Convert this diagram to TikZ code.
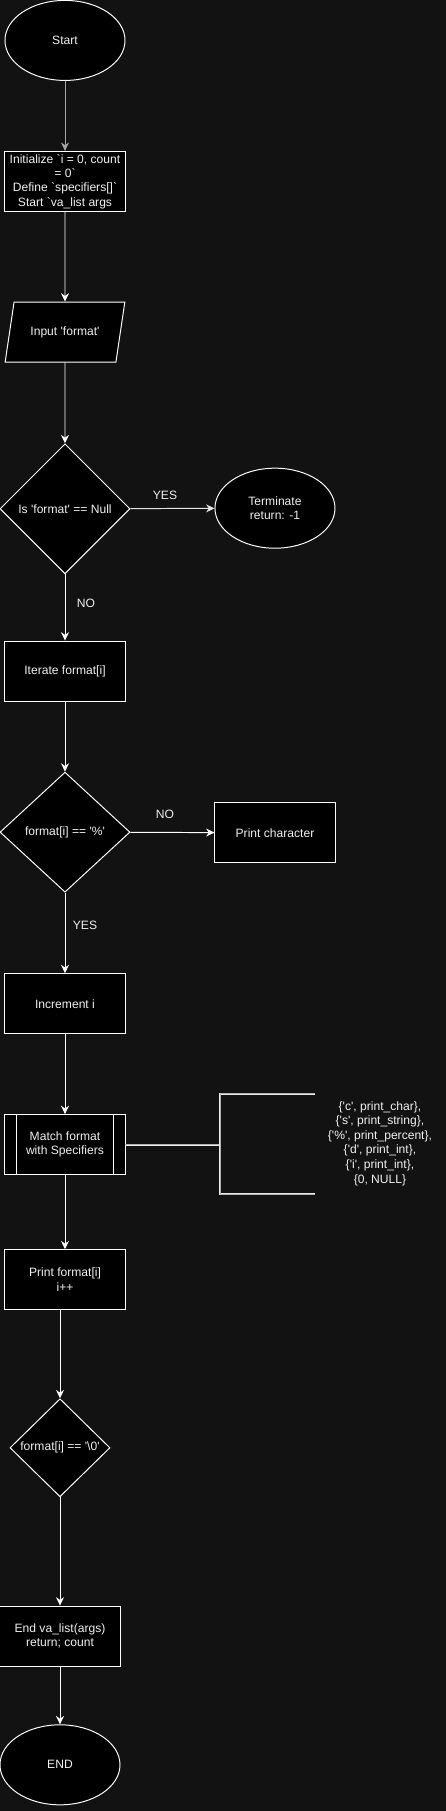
\documentclass[tikz,border=0pt]{standalone}
\usepackage{fontspec}
\newfontfamily\drawfont{Liberation Sans}
\usetikzlibrary{shapes.geometric,arrows.meta}
\definecolor{bgdark}{RGB}{18,18,18}
\definecolor{txtlight}{RGB}{240,240,240}

\begin{document}
\begin{tikzpicture}[x=0.025cm, y=-0.028868cm, line width=0.7pt,
	every node/.style={font=\drawfont\fontsize{8.6}{10.2}\selectfont, text=txtlight},
	box/.style={draw=white, fill=black, minimum width=3cm, minimum height=1.5cm, align=center, inner sep=1pt},
	term/.style={ellipse, draw=white, fill=black, minimum width=3cm, minimum height=2cm, align=center, inner sep=1pt},
	io/.style={trapezium, trapezium left angle=71.6, trapezium right angle=108.4, trapezium stretches=true, draw=white, fill=black, minimum width=3cm, minimum height=1.5cm},
	test/.style={diamond, draw=white, fill=black, inner sep=0pt, align=center},
	arrow/.style={draw=white, -{Stealth[length=2.1mm, width=2mm, inset=0.7mm]}},
	brace/.style={draw=white!85!gray, line width=0.5pt, double=gray!60, double distance=0.5pt},
	]
	\fill[bgdark] (0,0) rectangle (446,1568);
	\useasboundingbox (0,0) rectangle (446,1568);

	% main column
	\node[term] (start) at (65,35) {Start};
	\node[box] (init) at (65,157) {Initialize `i = 0, count\\= 0`\\Define `specifiers[]`\\Start `va\_list args};
	\node[io] (input) at (65,287.5) {Input 'format'};
	\node[test, minimum width=3.25cm, minimum height=3.25cm] (isnull) at (65,440.5) {Is 'format' == Null};
	\node[term] (stop) at (275,440) {Terminate\\return: -1};
	\node[box] (iter) at (65,581) {Iterate format[i]};
	\node[test, minimum width=3.25cm, minimum height=3cm] (ispct) at (65,720.5) {format[i] == '\%'};
	\node[box] (printc) at (275,721) {Print character};
	\node[box] (incr) at (65,869) {Increment i};
	\node[box] (match) at (65,991) {Match format\\with Specifiers};
	\draw[white] ([xshift=0.3cm]match.north west) -- ([xshift=0.3cm]match.south west);
	\draw[white] ([xshift=-0.3cm]match.north east) -- ([xshift=-0.3cm]match.south east);
	\node[box] (printf) at (65,1108) {Print format[i]\\i++};
	\node[test, minimum width=2.5cm, minimum height=2.45cm] (iszero) at (60,1253.5) {format[i] == '\textbackslash0'};
	\node[box] (finish) at (60,1416.5) {End va\_list(args)\\return; count};
	\node[term] (end) at (60,1528) {END};

	% specifier table
	\coordinate (brk) at (220,991);
	\node[align=center, font=\drawfont\fontsize{8.6}{10.4}\selectfont] (spec) at (380,990)
		{\{'c', print\_char\},\\\{'s', print\_string\},\\\{'\%', print\_percent\},\\\{'d', print\_int\},\\\{'i', print\_int\},\\\{0, NULL\}};

	% labels
	\node (yes1) at (165,429) {YES};
	\node (no1) at (86,522) {NO};
	\node (no2) at (165,705) {NO};
	\node (yes2) at (85,801) {YES};

	% connectors
	\draw[arrow, draw=gray!70!white] (start) -- (init);
	\draw[arrow] (init) -- (input);
	\draw[arrow] (input) -- (isnull);
	\draw[arrow, draw=white!80!gray] (isnull) -- (stop);
	\draw[arrow] (isnull) -- (iter);
	\draw[arrow] (iter) -- (ispct);
	\draw[arrow] (ispct) -- (printc);
	\draw[arrow] (ispct) -- (incr);
	\draw[arrow] (incr) -- (match);
	\draw[arrow] (match) -- (printf);
	\draw[arrow] (printf.south -| iszero.north) -- (iszero);
	\draw[arrow] (iszero) -- (finish);
	\draw[arrow] (finish) -- (end);

	\draw[brace] (match.east) -- (brk);
	\draw[brace] (315,947) -- (220,947) -- (220,1034) -- (315,1034);
\end{tikzpicture}
\end{document}
